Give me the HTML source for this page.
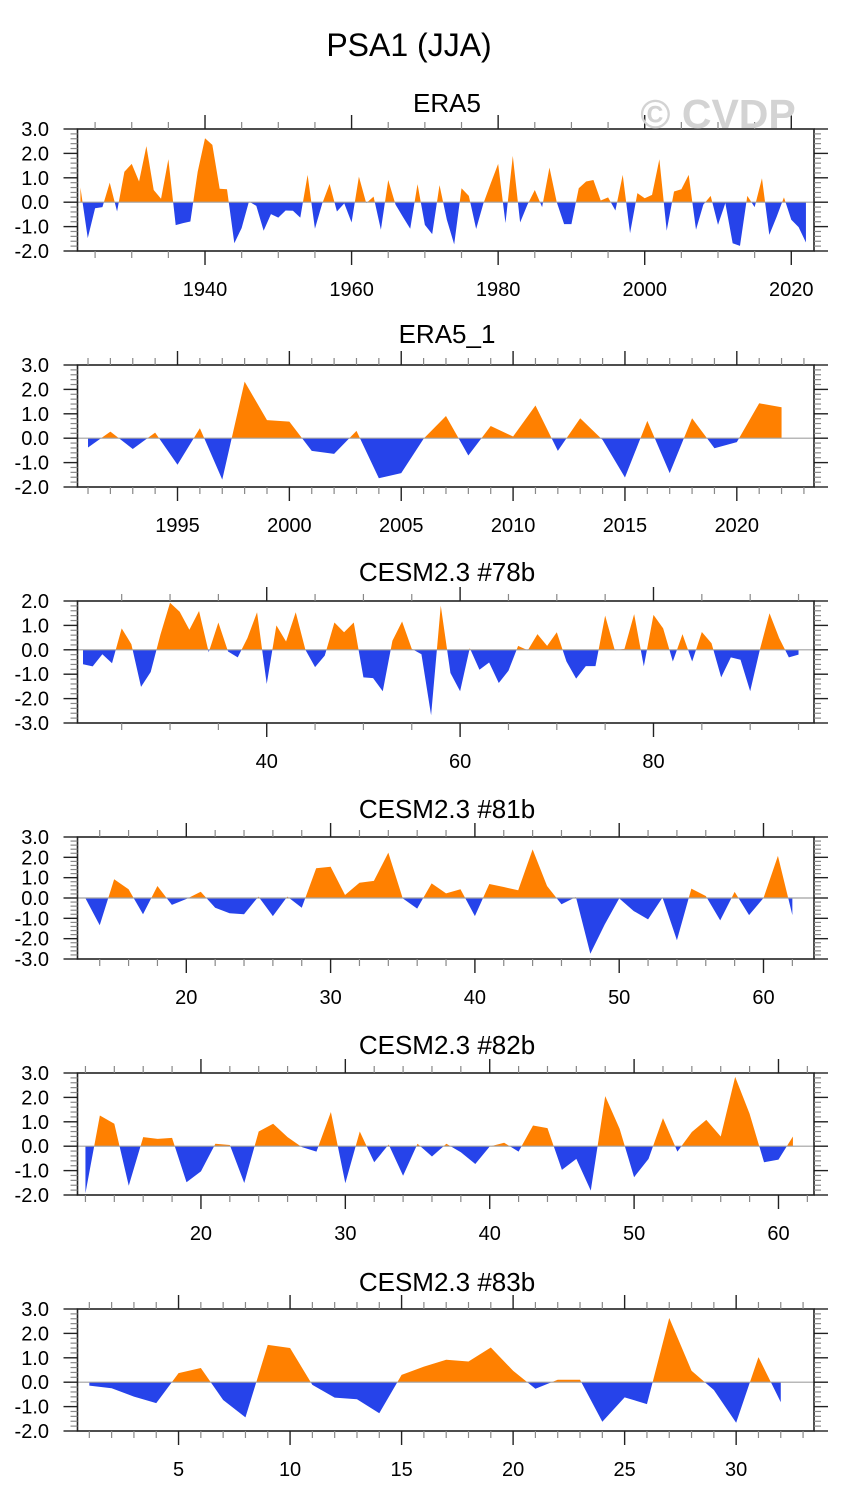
<!DOCTYPE html>
<html><head><meta charset="utf-8">
<style>
html,body{margin:0;padding:0;background:#fff;}
svg{display:block;font-family:"Liberation Sans",Arial,sans-serif;}
</style></head>
<body>
<svg id="chart" width="845" height="1506" viewBox="0 0 845 1506" xmlns="http://www.w3.org/2000/svg">
<text x="409" y="56" font-size="32" text-anchor="middle" fill="#000">PSA1 (JJA)</text>
</svg>
<script>
// ---- data ----
const era5Years = [1923,1924,1925,1926,1927,1928,1929,1930,1931,1932,1933,1934,1935,1936,1937,1938,1939,1940,1941,1942,1943,1944,1945,1946,1947,1948,1949,1950,1951,1952,1953,1954,1955,1956,1957,1958,1959,1960,1961,1962,1963,1964,1965,1966,1967,1968,1969,1970,1971,1972,1973,1974,1975,1976,1977,1978,1979,1980,1981,1982,1983,1984,1985,1986,1987,1988,1989,1990,1991,1992,1993,1994,1995,1996,1997,1998,1999,2000,2001,2002,2003,2004,2005,2006,2007,2008,2009,2010,2011,2012,2013,2014,2015,2016,2017,2018,2019,2020,2021,2022];
const era5Values = [0.6,-1.47,-0.25,-0.2,0.8,-0.38,1.25,1.57,0.85,2.3,0.5,0.14,1.76,-0.94,-0.86,-0.79,1.25,2.62,2.35,0.55,0.53,-1.68,-1.06,0.03,-0.15,-1.17,-0.49,-0.63,-0.34,-0.35,-0.63,1.12,-1.09,-0.05,0.75,-0.38,-0.05,-0.83,1.05,-0.04,0.23,-1.13,0.91,-0.1,-0.6,-1.09,0.74,-0.93,-1.31,0.7,-0.72,-1.73,0.57,0.26,-1.1,-0.04,0.78,1.57,-0.86,1.9,-0.83,-0.1,0.5,-0.2,1.42,0.0,-0.9,-0.9,0.57,0.85,0.91,0.07,0.2,-0.34,1.12,-1.27,0.37,0.16,0.3,1.76,-1.17,0.44,0.53,1.12,-1.13,-0.1,0.26,-0.93,-0.04,-1.68,-1.79,0.26,-0.2,0.98,-1.34,-0.6,0.2,-0.72,-1.02,-1.65];
const era5bYears = [1991,1992,1993,1994,1995,1996,1997,1998,1999,2000,2001,2002,2003,2004,2005,2006,2007,2008,2009,2010,2011,2012,2013,2014,2015,2016,2017,2018,2019,2020,2021,2022];
const era5bValues = [-0.38,0.27,-0.44,0.23,-1.09,0.41,-1.7,2.32,0.74,0.68,-0.52,-0.64,0.3,-1.64,-1.43,-0.02,0.91,-0.71,0.5,0.07,1.34,-0.52,0.82,-0.07,-1.61,0.71,-1.43,0.82,-0.41,-0.16,1.43,1.27];
const c78Start = 21;
const c78Values = [-0.59,-0.68,-0.18,-0.55,0.88,0.23,-1.52,-0.91,0.61,1.93,1.56,0.82,1.59,-0.1,1.12,-0.07,-0.31,0.48,1.54,-1.4,1.0,0.34,1.54,0.0,-0.71,-0.24,1.12,0.72,1.12,-1.13,-1.16,-1.7,0.37,1.16,0.04,-0.18,-2.68,1.81,-0.95,-1.7,0.07,-0.82,-0.52,-1.36,-0.86,0.16,-0.02,0.64,0.16,0.72,-0.48,-1.18,-0.67,-0.67,1.4,-0.02,0.04,1.46,-0.68,1.43,0.88,-0.48,0.64,-0.48,0.73,0.27,-1.13,-0.31,-0.41,-1.7,0.0,1.5,0.48,-0.31,-0.2];
const c81Start = 13;
const c81Values = [0.0,-1.34,0.92,0.43,-0.8,0.59,-0.34,-0.05,0.31,-0.48,-0.75,-0.8,0.07,-0.89,0.07,-0.48,1.46,1.54,0.15,0.75,0.84,2.23,-0.02,-0.52,0.72,0.23,0.43,-0.89,0.69,0.54,0.38,2.39,0.59,-0.31,0.05,-2.74,-1.3,-0.02,-0.64,-1.05,0.02,-2.08,0.46,0.1,-1.1,0.3,-0.84,0.0,2.07,-0.84];
const c82Start = 12;
const c82Values = [-1.93,1.26,0.92,-1.62,0.37,0.3,0.34,-1.48,-1.03,0.1,0.05,-1.51,0.6,0.92,0.37,-0.04,-0.22,1.4,-1.52,0.6,-0.66,0.07,-1.21,0.1,-0.42,0.1,-0.25,-0.73,-0.01,0.14,-0.22,0.85,0.74,-0.97,-0.52,-1.82,2.05,0.71,-1.27,-0.52,1.15,-0.22,0.58,1.08,0.4,2.84,1.33,-0.66,-0.55,0.4];
const c83Start = 1;
const c83Values = [-0.14,-0.25,-0.59,-0.86,0.37,0.58,-0.73,-1.44,1.53,1.4,-0.11,-0.63,-0.7,-1.27,0.3,0.64,0.92,0.85,1.42,0.47,-0.27,0.1,0.1,-1.62,-0.62,-0.9,2.63,0.47,-0.32,-1.66,1.03,-0.82];
const panelTitles = ["ERA5","ERA5_1","CESM2.3 #78b","CESM2.3 #81b","CESM2.3 #82b","CESM2.3 #83b"];
const yTickLabels5 = ["3.0","2.0","1.0","0.0","-1.0","-2.0"];
const yTickLabels78 = ["2.0","1.0","0.0","-1.0","-2.0","-3.0"];
const yTickLabels81 = ["3.0","2.0","1.0","0.0","-1.0","-2.0","-3.0"];

function seq(start,n){const a=[];for(let i=0;i<n;i++)a.push(start+i);return a;}

const svg=document.getElementById('chart');
const NS='http://www.w3.org/2000/svg';
function mk(tag,attrs,parent){const e=document.createElementNS(NS,tag);for(const k in attrs)e.setAttribute(k,attrs[k]);(parent||svg).appendChild(e);return e;}

const LEFT=77.5, RIGHT=814, BOXH=122;
const panels=[
 {key:'era5',top:129,xs:era5Years,ys:era5Values,xmin:1922.6,xmax:2023.1,ymin:-2,ymax:3,yl:yTickLabels5,major:20,majorStart:1940,minor:5,titleY:112},
 {key:'era5-1',top:365,xs:era5bYears,ys:era5bValues,xmin:1990.53,xmax:2023.45,ymin:-2,ymax:3,yl:yTickLabels5,major:5,majorStart:1995,minor:1,titleY:343},
 {key:'cesm-78b',top:601,xs:seq(c78Start,c78Values.length),ys:c78Values,xmin:20.43,xmax:96.6,ymin:-3,ymax:2,yl:yTickLabels78,major:20,majorStart:40,minor:5,titleY:581},
 {key:'cesm-81b',top:837,xs:seq(c81Start,c81Values.length),ys:c81Values,xmin:12.46,xmax:63.5,ymin:-3,ymax:3,yl:yTickLabels81,major:10,majorStart:20,minor:2,titleY:818},
 {key:'cesm-82b',top:1073,xs:seq(c82Start,c82Values.length),ys:c82Values,xmin:11.45,xmax:62.46,ymin:-2,ymax:3,yl:yTickLabels5,major:10,majorStart:20,minor:2,titleY:1054},
 {key:'cesm-83b',top:1309,xs:seq(c83Start,c83Values.length),ys:c83Values,xmin:0.47,xmax:33.49,ymin:-2,ymax:3,yl:yTickLabels5,major:5,majorStart:5,minor:1,titleY:1291}
];

panels.forEach((p,pi)=>{
  const g=mk('g',{});
  
  
  const X=v=>LEFT+(v-p.xmin)/(p.xmax-p.xmin)*(RIGHT-LEFT);
  const Y=v=>p.top+(p.ymax-v)/(p.ymax-p.ymin)*BOXH;
  const bottom=p.top+BOXH, y0=Y(0);
  const t=mk('text',{x:447,y:p.titleY,'font-size':'26','text-anchor':'middle',fill:'#000'},g);
  t.textContent=panelTitles[pi];
  
  
  const cidA='ca'+pi, cidB='cb'+pi;
  const cpA=mk('clipPath',{id:cidA},g); mk('rect',{x:LEFT,y:p.top,width:RIGHT-LEFT,height:y0-p.top},cpA);
  const cpB=mk('clipPath',{id:cidB},g); mk('rect',{x:LEFT,y:y0,width:RIGHT-LEFT,height:bottom-y0},cpB);
  let d='M'+X(p.xs[0]).toFixed(2)+','+y0.toFixed(2);
  for(let i=0;i<p.ys.length;i++) d+=' L'+X(p.xs[i]).toFixed(2)+','+Y(p.ys[i]).toFixed(2);
  d+=' L'+X(p.xs[p.xs.length-1]).toFixed(2)+','+y0.toFixed(2)+' Z';
  const a=mk('path',{d:d,fill:'#ff8000','clip-path':'url(#'+cidA+')'},g);
  
  
  const b=mk('path',{d:d,fill:'#2643ea','clip-path':'url(#'+cidB+')'},g);
  
  
  const zl=mk('line',{x1:LEFT,x2:RIGHT,y1:y0,y2:y0,stroke:'#a0a0a0','stroke-width':1.2},g);
  
  
  const bx=mk('rect',{x:LEFT,y:p.top,width:RIGHT-LEFT,height:BOXH,fill:'none',stroke:'#222','stroke-width':1.6},g);
  
  
  for(let v=p.ymin; v<=p.ymax+1e-6; v+=0.2){
    const vv=Math.round(v*10)/10, yy=Y(vv), maj=Math.abs(vv-Math.round(vv))<1e-6;
    const len=maj?14:7;
    mk('line',{x1:LEFT-len,x2:LEFT,y1:yy,y2:yy,stroke:maj?'#222':'#888','stroke-width':maj?1.4:1.2},g);
    mk('line',{x1:RIGHT,x2:RIGHT+len,y1:yy,y2:yy,stroke:maj?'#222':'#888','stroke-width':maj?1.4:1.2},g);
  }
  p.yl.forEach(lbl=>{
    const tx=mk('text',{x:49,y:Y(parseFloat(lbl))+7,'font-size':'20','text-anchor':'end',fill:'#000'},g);
    tx.textContent=lbl;
    
    
  });
  const first=Math.ceil(p.xmin/p.minor)*p.minor;
  for(let v=first; v<=p.xmax; v+=p.minor){
    const xx=X(v), maj=((v-p.majorStart)%p.major+p.major)%p.major===0;
    const len=maj?14:7;
    mk('line',{x1:xx,x2:xx,y1:p.top-len,y2:p.top,stroke:maj?'#222':'#888','stroke-width':maj?1.4:1.2},g);
    mk('line',{x1:xx,x2:xx,y1:bottom,y2:bottom+len,stroke:maj?'#222':'#888','stroke-width':maj?1.4:1.2},g);
    if(maj){
      const tx=mk('text',{x:xx,y:bottom+45,'font-size':'20','text-anchor':'middle',fill:'#000'},g);
      tx.textContent=String(v);
      
      
    }
  }
});
const wm=mk('text',{x:718,y:128,'font-size':'41','font-weight':'bold','text-anchor':'middle',fill:'#d3d3d3'});
wm.textContent='© CVDP';


</script>
</body></html>
